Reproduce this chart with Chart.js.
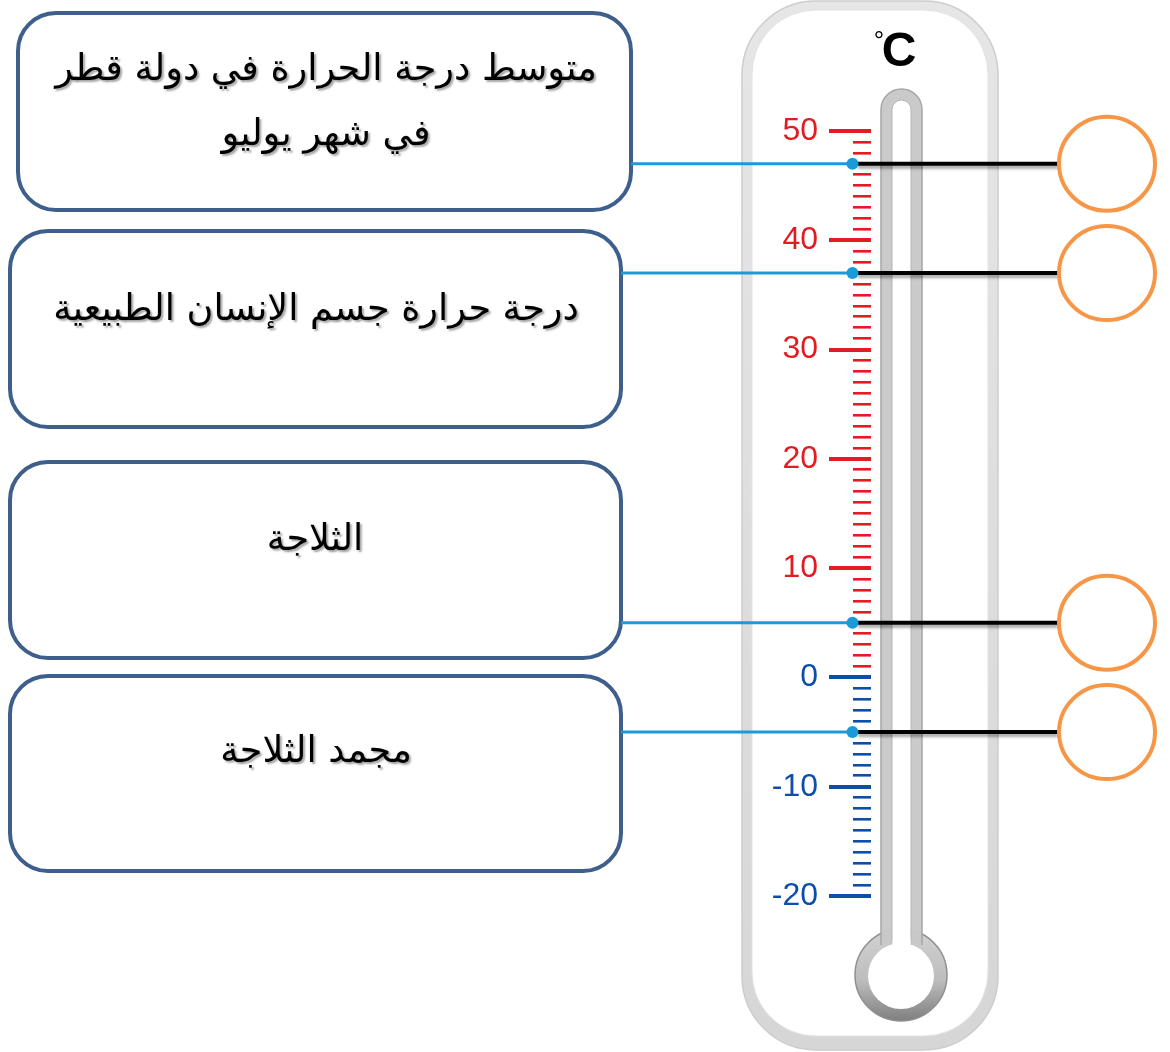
<!DOCTYPE html>
<html>
<head>
<meta charset="utf-8">
<script src="https://cdn.jsdelivr.net/npm/chart.js@4/dist/chart.umd.min.js"></script>
<style>
html,body{margin:0;padding:0;background:#fff;}
#wrap{width:1170px;height:1052px;position:relative;}
</style>
</head>
<body>
<div id="wrap"><canvas id="c"></canvas></div>
<script>
// ---------- data ----------
const CATEGORY_LINES = [
  ['متوسط درجة الحرارة في دولة قطر', 'في شهر يوليو'],
  ['درجة حرارة جسم الإنسان الطبيعية'],
  ['الثلاجة'],
  ['مجمد الثلاجة']
];
const TEMPERATURES = [47, 37, 5, -5];
const TICK_LABELS = [50, 40, 30, 20, 10, 0, -10, -20];
const SCALE_MIN = -20;
const SCALE_MAX = 50;
const MINOR_STEP = 1;
const MAJOR_STEP = 10;
const UNIT_LABEL = '°';
const UNIT_LETTER = 'C';

// ---------- layout / style ----------
const W = 1170, H = 1052;
const L = {
  plotLeft: 853, plotRight: 871, plotTop: 131, plotBottom: 896,
  dotX: 852.5, blackStart: 858, blackEnd: 1058, circleX: 1107, circleR: 47
};
const BOXES = [
  {x: 18, y: 13, w: 613, h: 197, textX: 326, textY: [70, 135]},
  {x: 10, y: 231, w: 611, h: 196, textX: 316, textY: [310]},
  {x: 10, y: 462, w: 611, h: 196, textX: 315, textY: [540]},
  {x: 10, y: 676, w: 611, h: 195, textX: 316, textY: [752]}
];
const RED = '#e31b22';
const BLUE_SCALE = '#0d4ea6';
const LINK_BLUE = '#1a9bd7';
const ORANGE = '#f79646';
const BOX_BORDER = '#3e5f8c';

const isMajor = v => Math.abs(v % MAJOR_STEP) < 1e-9;
const scaleColor = v => (v > 0 ? RED : BLUE_SCALE);

function roundRect(ctx, x, y, w, h, r) {
  ctx.beginPath();
  ctx.moveTo(x + r, y);
  ctx.arcTo(x + w, y, x + w, y + h, r);
  ctx.arcTo(x + w, y + h, x, y + h, r);
  ctx.arcTo(x, y + h, x, y, r);
  ctx.arcTo(x, y, x + w, y, r);
  ctx.closePath();
}

const backgroundPlugin = {
  id: 'background',
  beforeDraw(chart) {
    const ctx = chart.ctx;
    ctx.save();
    ctx.fillStyle = '#fff';
    ctx.fillRect(0, 0, W, H);

    // thermometer body
    let g = ctx.createLinearGradient(0, 0, 0, 1050);
    g.addColorStop(0, '#e6e6e6');
    g.addColorStop(1, '#d6d6d6');
    roundRect(ctx, 742, 1, 256, 1049, 74);
    ctx.fillStyle = g; ctx.fill();
    ctx.lineWidth = 1.5; ctx.strokeStyle = '#cdcdcd'; ctx.stroke();
    roundRect(ctx, 752, 10, 236, 1026, 64);
    ctx.fillStyle = '#fff'; ctx.fill();
    ctx.lineWidth = 1; ctx.strokeStyle = '#e2e2e2'; ctx.stroke();

    // bulb outer
    const bx = 901, by = 975;
    g = ctx.createLinearGradient(0, 930, 0, 1021);
    g.addColorStop(0, '#d2d2d2');
    g.addColorStop(0.55, '#bdbdbd');
    g.addColorStop(1, '#7f7f7f');
    ctx.beginPath(); ctx.arc(bx, by, 46, 0, Math.PI * 2);
    ctx.fillStyle = g; ctx.fill();
    ctx.lineWidth = 1.5; ctx.strokeStyle = '#8f8f8f'; ctx.stroke();
    // tube outer
    ctx.beginPath();
    ctx.moveTo(881, 950);
    ctx.lineTo(881, 109.5);
    ctx.arc(901.5, 109.5, 20.5, Math.PI, 0);
    ctx.lineTo(922, 950);
    ctx.closePath();
    ctx.fillStyle = '#cacaca'; ctx.fill();
    ctx.lineWidth = 1.5; ctx.strokeStyle = '#a6a6a6';
    ctx.beginPath();
    ctx.moveTo(881, 945); ctx.lineTo(881, 109.5);
    ctx.arc(901.5, 109.5, 20.5, Math.PI, 0);
    ctx.lineTo(922, 945);
    ctx.stroke();
    ctx.fillStyle = '#c8c8c8';
    ctx.fillRect(882, 930, 39, 22);
    // inner white channel
    ctx.beginPath();
    ctx.moveTo(892, 965);
    ctx.lineTo(892, 109.5);
    ctx.arc(901.5, 109.5, 9.5, Math.PI, 0);
    ctx.lineTo(911, 965);
    ctx.closePath();
    ctx.fillStyle = '#fff'; ctx.fill();
    ctx.lineWidth = 1; ctx.strokeStyle = '#b5b5b5';
    ctx.beginPath();
    ctx.moveTo(892, 948); ctx.lineTo(892, 109.5);
    ctx.arc(901.5, 109.5, 9.5, Math.PI, 0);
    ctx.lineTo(911, 948);
    ctx.stroke();
    ctx.beginPath(); ctx.arc(bx, by + 1, 33, 0, Math.PI * 2);
    ctx.fillStyle = '#fff'; ctx.fill();
    ctx.fillRect(892.5, 940, 18, 12);

    // unit label
    ctx.fillStyle = '#000';
    ctx.textAlign = 'center';
    ctx.textBaseline = 'alphabetic';
    ctx.font = '26px "Liberation Sans", Arial, sans-serif';
    ctx.fillText(UNIT_LABEL, 879, 49);
    ctx.font = 'bold 48px "Liberation Sans", Arial, sans-serif';
    ctx.fillText(UNIT_LETTER, 899, 66);

    // label boxes
    BOXES.forEach(b => {
      roundRect(ctx, b.x, b.y, b.w, b.h, 38);
      ctx.fillStyle = '#fff'; ctx.fill();
      ctx.lineWidth = 4; ctx.strokeStyle = BOX_BORDER; ctx.stroke();
    });

    // box texts
    const fam = '"DejaVu Sans", sans-serif';
    ctx.font = '34px ' + fam;
    const w0 = ctx.measureText(CATEGORY_LINES[0][0]).width;
    let size = 34 * 542 / w0;
    size = Math.max(24, Math.min(40, size));
    ctx.font = size.toFixed(1) + 'px ' + fam;
    ctx.direction = 'rtl';
    ctx.textAlign = 'center';
    ctx.textBaseline = 'middle';
    ctx.shadowColor = 'rgba(0,0,0,0.35)';
    ctx.shadowOffsetX = 2; ctx.shadowOffsetY = 2; ctx.shadowBlur = 2;
    ctx.fillStyle = '#000';
    CATEGORY_LINES.forEach((lines, i) => {
      lines.forEach((t, j) => ctx.fillText(t, BOXES[i].textX, BOXES[i].textY[j]));
    });
    ctx.restore();
  }
};

const shadowPlugin = {
  id: 'lineShadow',
  beforeDatasetDraw(chart, args) {
    if (chart.data.datasets[args.index].shadow) {
      const ctx = chart.ctx;
      ctx.save();
      ctx.shadowColor = 'rgba(0,0,0,0.35)';
      ctx.shadowOffsetY = 3; ctx.shadowBlur = 3;
    }
  },
  afterDatasetDraw(chart, args) {
    if (chart.data.datasets[args.index].shadow) chart.ctx.restore();
  }
};

// answer circles, positioned through the chart's scales
const circlePlugin = {
  id: 'answerCircles',
  afterDatasetsDraw(chart) {
    const ctx = chart.ctx;
    const xs = chart.scales.x, ys = chart.scales.y;
    ctx.save();
    TEMPERATURES.forEach(t => {
      const cx = xs.getPixelForValue(L.circleX);
      const cy = ys.getPixelForValue(t);
      ctx.beginPath();
      ctx.ellipse(cx, cy, L.circleR + 1, L.circleR, 0, 0, Math.PI * 2);
      ctx.fillStyle = '#fff'; ctx.fill();
      ctx.lineWidth = 4; ctx.strokeStyle = ORANGE; ctx.stroke();
    });
    ctx.restore();
  }
};

const datasets = [];
TEMPERATURES.forEach((t, i) => {
  const b = BOXES[i];
  datasets.push({
    type: 'line', label: 'link' + i,
    data: [{x: b.x + b.w, y: t}, {x: L.dotX, y: t}],
    borderColor: LINK_BLUE, borderWidth: 3,
    pointRadius: c => (c.dataIndex === 1 ? 6 : 0),
    pointBackgroundColor: LINK_BLUE, pointBorderColor: LINK_BLUE, pointBorderWidth: 0,
    clip: false, order: 1
  });
  datasets.push({
    type: 'line', label: 'pointer' + i,
    data: [{x: L.blackStart, y: t}, {x: L.blackEnd, y: t}],
    borderColor: '#000', borderWidth: 4, pointRadius: 0,
    clip: false, order: 2, shadow: true
  });
});

new Chart(document.getElementById('c'), {
  type: 'scatter',
  data: {datasets},
  options: {
    responsive: true, maintainAspectRatio: false, animation: false, events: [],
    layout: {autoPadding: false, padding: {left: 0, right: W - L.plotRight, top: L.plotTop, bottom: H - L.plotBottom}},
    plugins: {legend: {display: false}, tooltip: {enabled: false}},
    scales: {
      x: {type: 'linear', display: false, min: L.plotLeft, max: L.plotRight},
      y: {
        type: 'linear', position: 'left', min: SCALE_MIN, max: SCALE_MAX,
        afterFit: s => { s.width = L.plotLeft; s.paddingTop = 0; s.paddingBottom = 0; },
        border: {display: false},
        grid: {
          drawOnChartArea: true, drawTicks: true, tickLength: 24,
          color: c => (c.tick ? scaleColor(c.tick.value) : 'rgba(0,0,0,0)'),
          lineWidth: c => (c.tick && isMajor(c.tick.value) ? 4 : 2.6),
          tickColor: c => (c.tick && isMajor(c.tick.value) ? scaleColor(c.tick.value) : 'rgba(0,0,0,0)'),
          tickWidth: 4
        },
        ticks: {
          stepSize: MINOR_STEP, autoSkip: false, maxTicksLimit: 1000, padding: 11,
          color: c => (c.tick ? scaleColor(c.tick.value) : RED),
          font: {family: '"Liberation Sans", Arial, sans-serif', size: 32},
          callback: v => (TICK_LABELS.includes(v) ? String(v) : '')
        }
      }
    }
  },
  plugins: [backgroundPlugin, shadowPlugin, circlePlugin]
});
</script>
</body>
</html>
